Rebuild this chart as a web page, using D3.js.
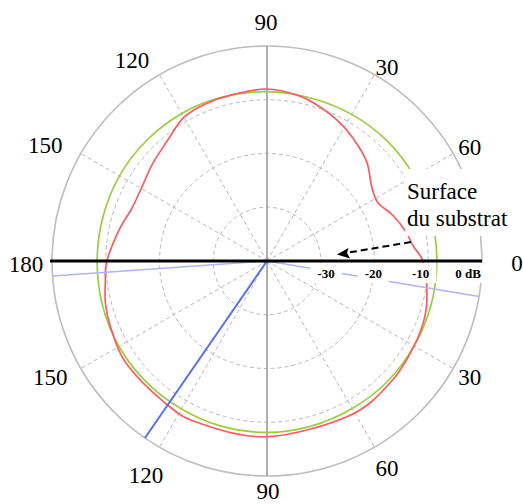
<!DOCTYPE html>
<html><head><meta charset="utf-8">
<script src="https://cdn.jsdelivr.net/npm/d3@7"></script>
<style>html,body{margin:0;padding:0;background:#fff;} svg{display:block;} text{font-family:"Liberation Serif","DejaVu Serif",serif;}</style>
</head><body>
<svg id="chart" width="523" height="504"></svg>
<script>
// ---------------- data ----------------
const angleTicks  = [0, 30, 60, 90, 120, 150, 180, 210, 240, 270, 300, 330];
const angleLabels = ["0", "60", "30", "90", "120", "150", "180", "150", "120", "90", "60", "30"];
const dbTicks      = [-30, -20, -10, 0];
const dbTickLabels = ["-30", "-20", "-10", "0 dB"];

const redAngles = [0, 6, 12, 20, 28, 36, 45, 55, 63, 71, 79, 90, 102, 111, 120, 130, 140, 150, 159, 168,
                   180, 187, 195, 203, 216, 234, 247, 270, 298, 316, 330, 341, 351];
const redDb     = [-11.0, -12.7, -13.6, -15.1, -16.7, -16.0, -13.8, -12.1, -10.8, -9.7, -8.7, -8.0, -8.4, -8.6, -9.1, -11.0, -12.1, -13.0, -13.0, -11.9,
                   -10.2, -9.7, -8.9, -8.4, -7.6, -7.5, -7.3, -7.3, -7.4, -7.8, -8.4, -8.9, -9.9];

const greenAngles = [0, 15, 30, 45, 60, 75, 90, 105, 120, 135, 150, 165, 180, 195, 210, 225, 240, 255, 270, 285, 300, 315, 330, 345];
const greenDb     = [-8.4, -8.4, -8.4, -8.4, -8.5, -8.6, -8.5, -8.4, -8.3, -8.3, -8.3, -8.4, -8.4, -8.3, -8.2, -8.2, -8.2, -8.1, -8.1, -8.2, -8.3, -8.3, -8.4, -8.4];

const blueLightAngles = [184, 0, 350.5];
const blueLightDb     = [0, -40, 0];
const blueDarkAngles  = [235.4, 0];
const blueDarkDb      = [0, -40];

const annotationLines = ["Surface", "du substrat"];

// ---------------- layout ----------------
const W = 523, H = 504;
const cx = 267, cy = 261, R = 215;
const labelR = 240;
const labelOffset = [[10,2],[-5,6],[0,14],[-1,0.5],[-15,7],[-14,3.5],[-1,2.5],[-9,-4.5],[-1,6],[1,-10],[0,-1],[-5,-4]];
const SERIF = '"Liberation Serif", "DejaVu Serif", serif';

const svg = d3.select("#chart");
svg.append("rect").attr("width", W).attr("height", H).attr("fill", "#fff");
const g = svg.append("g").attr("transform", `translate(${cx},${cy})`);

const r = d3.scaleLinear().domain([-40, 0]).range([0, R]);
const rad = deg => deg * Math.PI / 180;
const px = (deg, rr) => rr * Math.cos(rad(deg));
const py = (deg, rr) => -rr * Math.sin(rad(deg));

// grid rings
g.selectAll("circle.ring").data(dbTicks.filter(d => d < 0)).join("circle")
  .attr("class", "ring").attr("r", d => r(d))
  .attr("fill", "none").attr("stroke", "#b8b8b8").attr("stroke-width", 1)
  .attr("stroke-dasharray", "4,3");
g.append("circle").attr("r", r(0)).attr("fill", "none")
  .attr("stroke", "#bdbdbd").attr("stroke-width", 1.6);

// spokes
g.selectAll("line.spoke").data(angleTicks.filter(a => a % 90 !== 0)).join("line")
  .attr("class", "spoke")
  .attr("x1", 0).attr("y1", 0)
  .attr("x2", a => px(a, r(0))).attr("y2", a => py(a, r(0)))
  .attr("stroke", "#b8b8b8").attr("stroke-width", 1).attr("stroke-dasharray", "4,3");
g.append("line").attr("x1", 0).attr("x2", 0).attr("y1", -r(0)).attr("y2", r(0))
  .attr("stroke", "#9a9a9a").attr("stroke-width", 1.6);

// series
const radial = d3.lineRadial()
  .angle(d => rad(90 - d[0]))
  .radius(d => r(d[1]));

const green = greenAngles.map((a, i) => [a, greenDb[i]]);
const red = redAngles.map((a, i) => [a, redDb[i]]);
const blueLight = blueLightAngles.map((a, i) => [a, blueLightDb[i]]);
const blueDark = blueDarkAngles.map((a, i) => [a, blueDarkDb[i]]);

g.append("path").attr("d", radial.curve(d3.curveCardinalClosed.tension(0))(green))
  .attr("fill", "none").attr("stroke", "#9ccc40").attr("stroke-width", 1.7);
g.append("path").attr("d", radial.curve(d3.curveCardinalClosed.tension(0))(red))
  .attr("fill", "none").attr("stroke", "#ff5a5f").attr("stroke-width", 1.7);
g.append("path").attr("d", radial.curve(d3.curveLinear)(blueLight))
  .attr("fill", "none").attr("stroke", "#aeb4f7").attr("stroke-width", 1.6);
g.append("path").attr("d", radial.curve(d3.curveLinear)(blueDark))
  .attr("fill", "none").attr("stroke", "#5b6df2").attr("stroke-width", 2);

// dB tick labels with white background
const dbLabelX = d3.scaleLinear().domain([-30, 0]).range([59, 201]);
const dbG = g.append("g");
dbTicks.forEach((d, i) => {
  const t = dbG.append("text")
    .attr("x", dbLabelX(d)).attr("y", 16.5)
    .attr("text-anchor", "middle")
    .style("font-family", SERIF)
    .attr("font-weight", "bold").attr("font-size", 13)
    .attr("fill", "#000").text(dbTickLabels[i]);
  const bb = t.node().getBBox();
  dbG.insert("rect", "text")
    .attr("x", bb.x - 7).attr("y", 2).attr("width", bb.width + 14).attr("height", 20)
    .attr("fill", "#fff");
});

// annotation box
svg.append("rect").attr("x", 405).attr("y", 169).attr("width", 90).attr("height", 67).attr("fill", "#fff");
svg.selectAll("text.ann").data(annotationLines).join("text")
  .attr("class", "ann")
  .attr("x", 407).attr("y", (d, i) => 199 + i * 27)
  .style("font-family", SERIF)
  .attr("font-size", 23).attr("fill", "#000").text(d => d);

// arrow
svg.append("line").attr("x1", 411).attr("y1", 242).attr("x2", 346).attr("y2", 253)
  .attr("stroke", "#000").attr("stroke-width", 2).attr("stroke-dasharray", "7,4");
svg.append("path").attr("d", "M337,254.5 L348.5,248 L347,253 L350,258.5 Z").attr("fill", "#000");

// black horizontal axis
g.append("line").attr("x1", -r(0) - 2).attr("x2", r(0)).attr("y1", 0).attr("y2", 0)
  .attr("stroke", "#000").attr("stroke-width", 3.2);

// angle labels
g.selectAll("text.ang").data(angleTicks).join("text")
  .attr("class", "ang")
  .attr("x", (a, i) => px(a, labelR) + labelOffset[i][0])
  .attr("y", (a, i) => py(a, labelR) + labelOffset[i][1])
  .attr("dy", "0.35em").attr("text-anchor", "middle")
  .style("font-family", SERIF)
  .attr("font-size", 23).attr("fill", "#000")
  .text((a, i) => angleLabels[i]);
</script>
</body></html>
